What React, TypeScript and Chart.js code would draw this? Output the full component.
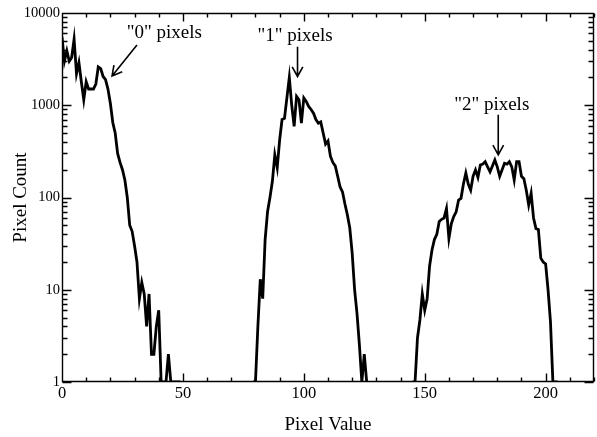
import { useEffect, useRef } from "react";
import { Chart, registerables } from "chart.js";

Chart.register(...registerables);

// Axis ticks
const xTicks = [0, 50, 100, 150, 200];
const yTicks = [1, 10, 100, 1000, 10000];
const xMax = 220;
const xMinorStep = 10;

// Histogram counts per pixel value, one run per class of pixel
const zeroPixelsStart = 0;
const zeroPixelsCounts = [
  5500, 3000, 3900, 3000, 3300, 5200, 2200, 2900, 1800, 1150,
  1800, 1500, 1500, 1500, 1700, 2600, 2500, 2050, 1900, 1500,
  1050, 650, 500, 300, 240, 200, 155, 100, 50, 43,
  30, 20, 8, 12, 9, 4, 9, 2, 2, 4,
  6, 0, 0, 0, 2, 0, 0, 0, 1, 0,
];

const onePixelsStart = 79;
const onePixelsCounts = [
  0, 0, 4, 13, 8, 35, 70, 100, 150, 290,
  210, 420, 700, 720, 1200, 2000, 1000, 590, 1250, 1150,
  640, 1200, 1100, 970, 900, 820, 700, 640, 660, 500,
  380, 410, 280, 240, 220, 170, 130, 115, 85, 65,
  47, 25, 10, 5.5, 2.5, 0, 2, 0,
];

const twoPixelsStart = 145;
const twoPixelsCounts = [
  0, 0, 3, 4.7, 9, 6, 8, 18, 27, 35,
  40, 55, 58, 60, 76, 36, 52, 62, 70, 94,
  98, 140, 184, 140, 120, 170, 199, 165, 225, 230,
  245, 215, 190, 220, 255, 215, 170, 200, 235, 230,
  245, 215, 155, 245, 245, 170, 160, 120, 83, 111,
  60, 46, 45, 22, 20, 19, 10, 4.5, 0, 1,
  0,
];

// Callouts: label text, label anchor, arrow tail and arrow tip (data coordinates)
const calloutTexts = ['"0" pixels', '"1" pixels', '"2" pixels'];
const calloutAnchors = [[42.3, 5300], [96.4, 5000], [177.7, 890]];
const arrowTails = [[31, 4500], [97.4, 4300], [180.4, 790]];
const arrowTips = [[20.7, 2080], [97.4, 2050], [180.4, 290]];

const xTitle = "Pixel Value";
const yTitle = "Pixel Count";

const SERIF = '"Liberation Serif", "Times New Roman", serif';

// Empty bins can't sit on a log axis; they rest on the axis floor.
const toPoints = (start: number, counts: number[]) =>
  counts.map((c, i) => ({ x: start + i, y: c > 0 ? c : yTicks[0] }));

const frameAndNotes = {
  id: "frameAndNotes",
  afterDraw(chart: any) {
    const { ctx, chartArea: a, scales } = chart;
    const sx = scales.x;
    const sy = scales.y;
    ctx.save();
    ctx.fillStyle = "#000";
    ctx.strokeStyle = "#000";

    const L = Math.round(a.left) + 0.5;
    const R = Math.round(a.right) - 0.5;
    const T = Math.round(a.top) + 0.5;
    const B = Math.round(a.bottom) - 0.5;

    // frame and inward tick marks on all four sides
    ctx.lineWidth = 1.4;
    ctx.beginPath();
    ctx.rect(L, T, R - L, B - T);
    for (let v = 0; v <= xMax; v += xMinorStep) {
      const len = xTicks.includes(v) ? 8 : 4;
      const px = Math.round(sx.getPixelForValue(v)) + 0.5;
      ctx.moveTo(px, B);
      ctx.lineTo(px, B - len);
      ctx.moveTo(px, T);
      ctx.lineTo(px, T + len);
    }
    const yTop = yTicks[yTicks.length - 1];
    for (const base of yTicks) {
      for (let k = 1; k <= 9; k++) {
        const v = base * k;
        if (v > yTop) break;
        const len = k === 1 ? 9 : 5;
        const py = Math.round(sy.getPixelForValue(v)) + 0.5;
        ctx.moveTo(L, py);
        ctx.lineTo(L + len, py);
        ctx.moveTo(R, py);
        ctx.lineTo(R - len, py);
      }
    }
    ctx.stroke();

    // axis titles
    ctx.font = `19px ${SERIF}`;
    ctx.textAlign = "center";
    ctx.textBaseline = "alphabetic";
    ctx.fillText(xTitle, (a.left + a.right) / 2, 430);
    ctx.save();
    ctx.translate(26, (a.top + a.bottom) / 2);
    ctx.rotate(-Math.PI / 2);
    ctx.fillText(yTitle, 0, 0);
    ctx.restore();

    // callouts with arrows
    ctx.lineWidth = 1.6;
    for (let i = 0; i < calloutTexts.length; i++) {
      const [tx, ty] = calloutAnchors[i];
      ctx.fillText(calloutTexts[i], sx.getPixelForValue(tx), sy.getPixelForValue(ty));
      const x0 = sx.getPixelForValue(arrowTails[i][0]);
      const y0 = sy.getPixelForValue(arrowTails[i][1]);
      const x1 = sx.getPixelForValue(arrowTips[i][0]);
      const y1 = sy.getPixelForValue(arrowTips[i][1]);
      const ang = Math.atan2(y0 - y1, x0 - x1);
      const head = 11;
      const spread = (29 * Math.PI) / 180;
      ctx.beginPath();
      ctx.moveTo(x0, y0);
      ctx.lineTo(x1, y1);
      ctx.moveTo(x1 + head * Math.cos(ang - spread), y1 + head * Math.sin(ang - spread));
      ctx.lineTo(x1, y1);
      ctx.lineTo(x1 + head * Math.cos(ang + spread), y1 + head * Math.sin(ang + spread));
      ctx.stroke();
    }
    ctx.restore();
  },
};

export default function App() {
  const canvasRef = useRef<HTMLCanvasElement>(null);

  useEffect(() => {
    const lineStyle = {
      borderColor: "#000",
      borderWidth: 2.8,
      pointRadius: 0,
      tension: 0,
      fill: false,
      clip: 0,
      borderJoinStyle: "miter" as const,
    };
    const chart = new Chart(canvasRef.current!, {
      type: "line",
      data: {
        datasets: [
          { ...lineStyle, data: toPoints(zeroPixelsStart, zeroPixelsCounts) },
          { ...lineStyle, data: toPoints(onePixelsStart, onePixelsCounts) },
          { ...lineStyle, data: toPoints(twoPixelsStart, twoPixelsCounts) },
        ],
      },
      options: {
        animation: false,
        responsive: true,
        maintainAspectRatio: false,
        devicePixelRatio: 1,
        events: [],
        layout: { padding: { top: 13, right: 3, left: 0, bottom: 0 } },
        plugins: { legend: { display: false }, tooltip: { enabled: false } },
        scales: {
          x: {
            type: "linear",
            min: 0,
            max: xMax,
            grid: { display: false, drawTicks: false },
            border: { display: false },
            afterBuildTicks: (s: any) => {
              s.ticks = xTicks.map((v) => ({ value: v }));
            },
            afterFit: (s: any) => {
              s.height = 55;
            },
            ticks: {
              color: "#000",
              padding: 2,
              maxRotation: 0,
              autoSkip: false,
              font: { family: SERIF, size: 16.5 },
              callback: (v: any) => String(v),
            },
          },
          y: {
            type: "logarithmic",
            min: yTicks[0],
            max: yTicks[yTicks.length - 1],
            grid: { display: false, drawTicks: false },
            border: { display: false },
            afterBuildTicks: (s: any) => {
              s.ticks = yTicks.map((v) => ({ value: v }));
            },
            afterFit: (s: any) => {
              s.width = 62;
            },
            ticks: {
              color: "#000",
              padding: 2,
              autoSkip: false,
              font: { family: SERIF, size: 14.5 },
              callback: (v: any) => String(v),
            },
          },
        },
      },
      plugins: [frameAndNotes],
    });
    return () => chart.destroy();
  }, []);

  return (
    <div style={{ position: "absolute", left: 0, top: 0, width: 597, height: 437, background: "#fff" }}>
      <canvas ref={canvasRef} />
    </div>
  );
}
